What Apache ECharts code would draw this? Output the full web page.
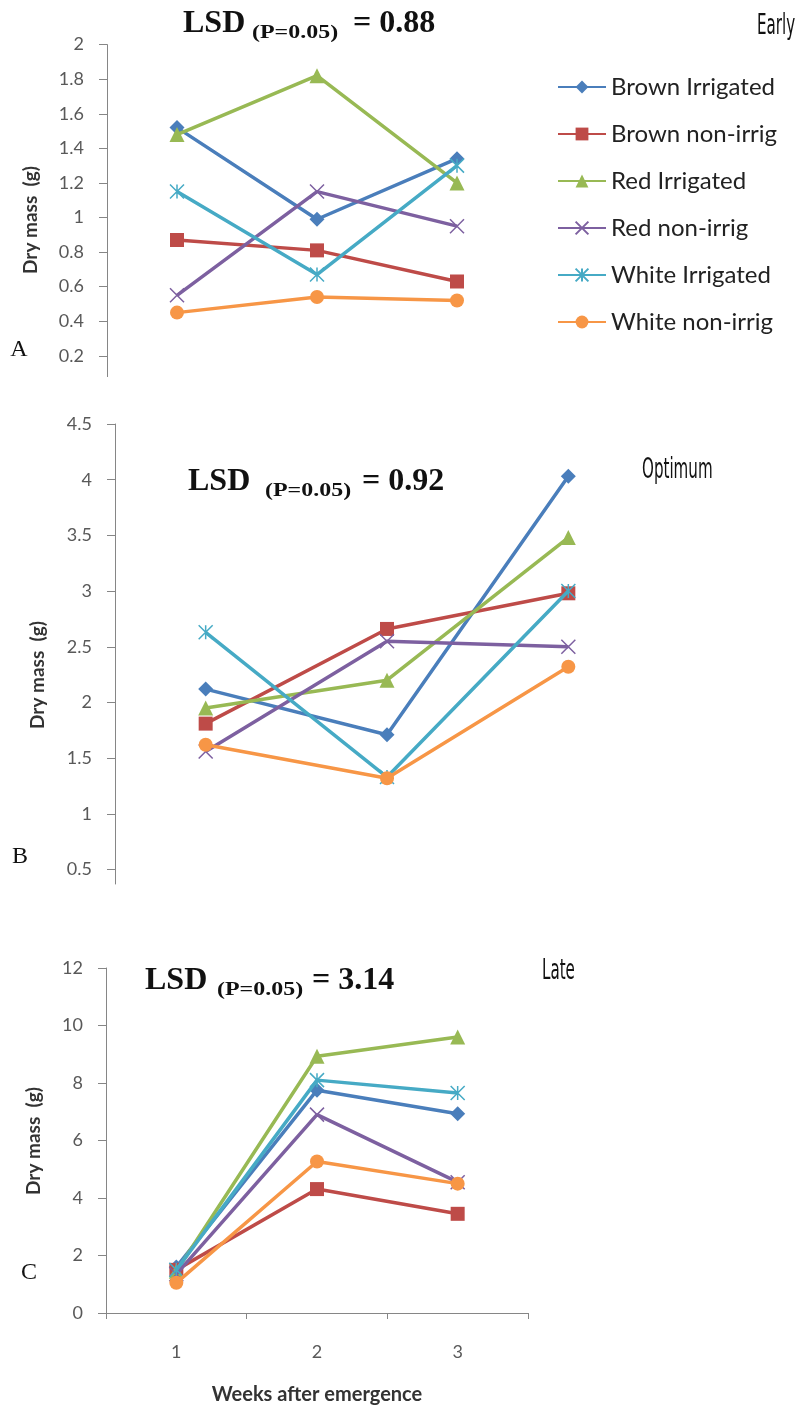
<!DOCTYPE html>
<html>
<head>
<meta charset="utf-8">
<script src="https://cdn.jsdelivr.net/npm/echarts@6/dist/echarts.min.js"></script>
<style>
  html, body { margin: 0; padding: 0; background: #ffffff; }
  #chart { width: 802px; height: 1407px; }
</style>
</head>
<body>
<div id="chart"></div>
<script>
// Weeks after emergence (category axis)
const weeks = ['1', '2', '3'];

// Treatment names (legend order)
const treatmentNames = ['Brown Irrigated', 'Brown non-irrig', 'Red Irrigated', 'Red non-irrig', 'White Irrigated', 'White non-irrig'];

// Early planting – dry mass (g)
const earlyBrownIrrigated = [1.52, 0.99, 1.34];
const earlyBrownNonIrrig  = [0.87, 0.81, 0.63];
const earlyRedIrrigated   = [1.48, 1.82, 1.20];
const earlyRedNonIrrig    = [0.55, 1.15, 0.95];
const earlyWhiteIrrigated = [1.15, 0.67, 1.30];
const earlyWhiteNonIrrig  = [0.45, 0.54, 0.52];

// Optimum planting – dry mass (g)
const optimumBrownIrrigated = [2.12, 1.71, 4.03];
const optimumBrownNonIrrig  = [1.81, 2.66, 2.98];
const optimumRedIrrigated   = [1.95, 2.20, 3.48];
const optimumRedNonIrrig    = [1.56, 2.55, 2.50];
const optimumWhiteIrrigated = [2.63, 1.33, 3.00];
const optimumWhiteNonIrrig  = [1.62, 1.32, 2.32];

// Late planting – dry mass (g)
const lateBrownIrrigated = [1.60, 7.75, 6.93];
const lateBrownNonIrrig  = [1.50, 4.31, 3.45];
const lateRedIrrigated   = [1.45, 8.93, 9.60];
const lateRedNonIrrig    = [1.35, 6.90, 4.55];
const lateWhiteIrrigated = [1.50, 8.10, 7.65];
const lateWhiteNonIrrig  = [1.05, 5.27, 4.50];

// Y-axis tick values per panel
const ticksEarly   = [0.2, 0.4, 0.6, 0.8, 1, 1.2, 1.4, 1.6, 1.8, 2];
const ticksOptimum = [0.5, 1, 1.5, 2, 2.5, 3, 3.5, 4, 4.5];
const ticksLate    = [0, 2, 4, 6, 8, 10, 12];

// Panel annotations
const lsdValues    = ['0.88', '0.92', '3.14'];
const seasonLabels = ['Early', 'Optimum', 'Late'];
const panelLetters = ['A', 'B', 'C'];
const yAxisTitle   = 'Dry mass  (g)';
const xAxisTitle   = 'Weeks after emergence';

const panelData = [
  [earlyBrownIrrigated, earlyBrownNonIrrig, earlyRedIrrigated, earlyRedNonIrrig, earlyWhiteIrrigated, earlyWhiteNonIrrig],
  [optimumBrownIrrigated, optimumBrownNonIrrig, optimumRedIrrigated, optimumRedNonIrrig, optimumWhiteIrrigated, optimumWhiteNonIrrig],
  [lateBrownIrrigated, lateBrownNonIrrig, lateRedIrrigated, lateRedNonIrrig, lateWhiteIrrigated, lateWhiteNonIrrig]
];

// Marker / line styling for each treatment
const crossPath = 'path://M0 0L10 10M10 0L0 10';
const starPath  = 'path://M0 0L10 10M10 0L0 10M5 0L5 10';
const treatmentStyles = [
  { color: '#4A7EBB', symbol: 'diamond',  size: 15, border: 0 },
  { color: '#BE4B48', symbol: 'rect',     size: 14, border: 0 },
  { color: '#98B954', symbol: 'triangle', size: 15, border: 0 },
  { color: '#7D60A0', symbol: crossPath,  size: 14, border: 1.5 },
  { color: '#46AAC5', symbol: starPath,   size: 14, border: 1.5 },
  { color: '#F79646', symbol: 'circle',   size: 14, border: 0 }
];

const axisGray  = '#868686';
const labelGray = '#595959';
const sansFont  = 'Lato, "Open Sans", sans-serif';
const serifFont = '"Liberation Serif", "DejaVu Serif", serif';
const narrowFont = '"Liberation Sans Narrow", "DejaVu Sans Condensed", sans-serif';

const grids = [
  { left: 107, top: 44.6, width: 420, height: 332 },
  { left: 115, top: 424,  width: 544, height: 460 },
  { left: 106, top: 968,  width: 422, height: 345 }
];

const yRanges = [
  { min: 0.08, max: 2,   ticks: ticksEarly },
  { min: 0.37, max: 4.5, ticks: ticksOptimum },
  { min: 0,    max: 12,  ticks: ticksLate }
];

const xAxes = grids.map((g, i) => ({
  type: 'category',
  gridIndex: i,
  data: weeks,
  boundaryGap: true,
  show: i === 2,
  axisLine: { show: true, lineStyle: { color: axisGray, width: 1 } },
  axisTick: { show: true, length: 6, lineStyle: { color: axisGray } },
  axisLabel: { margin: 30, fontSize: 18, color: labelGray, fontFamily: sansFont },
  name: i === 2 ? xAxisTitle : '',
  nameLocation: 'middle',
  nameGap: 72,
  nameTextStyle: { fontWeight: 'bold', fontSize: 20, color: '#333333', fontFamily: sansFont }
}));

const yAxes = yRanges.map((r, i) => ({
  type: 'value',
  gridIndex: i,
  min: r.min,
  max: r.max,
  axisLine: { show: true, lineStyle: { color: axisGray, width: 1 } },
  axisTick: { show: true, length: 8, customValues: r.ticks, lineStyle: { color: axisGray } },
  axisLabel: { customValues: r.ticks, margin: 23, fontSize: 18, color: labelGray, fontFamily: sansFont },
  splitLine: { show: false }
}));

const series = [];
panelData.forEach((rows, p) => {
  rows.forEach((values, k) => {
    const s = treatmentStyles[k];
    series.push({
      type: 'line',
      name: treatmentNames[k],
      xAxisIndex: p,
      yAxisIndex: p,
      data: values,
      symbol: s.symbol,
      symbolSize: s.size,
      showAllSymbol: true,
      lineStyle: { width: 3.5, color: s.color },
      itemStyle: { color: s.color, borderColor: s.color, borderWidth: s.border, opacity: 1 },
      emphasis: { disabled: true },
      z: 2 + k
    });
  });
});

// Text annotations: LSD titles, season labels, panel letters, rotated y titles
// lsdLayout: [left, capCentre, subscript offset, equals offset]
const lsdLayout = [[183, 24, 69, 170], [188, 482, 77, 174], [145, 981, 72, 167]];
const seasonPos = [[757, 27], [642, 471], [542, 972]];
const letterPos = [[19, 350], [20, 857], [29, 1273]];
const yTitlePos = [[31, 220], [38, 675], [34, 1141]];

const graphics = [];
lsdValues.forEach((v, i) => {
  const L = lsdLayout[i];
  graphics.push({
    type: 'group',
    x: L[0], y: L[1],
    children: [
      { type: 'text', x: 0, y: 0,
        style: { text: 'LSD', font: 'bold 32px ' + serifFont, fill: '#111', verticalAlign: 'middle', align: 'left' } },
      { type: 'text', x: L[2], y: 9, scaleX: 1.33,
        style: { text: '(P=0.05)', font: 'bold 18px ' + serifFont, fill: '#111', verticalAlign: 'middle', align: 'left' } },
      { type: 'text', x: L[3], y: 0,
        style: { text: '= ' + v, font: 'bold 32px ' + serifFont, fill: '#111', verticalAlign: 'middle', align: 'left' } }
    ]
  });
});
seasonLabels.forEach((t, i) => {
  graphics.push({
    type: 'text',
    x: seasonPos[i][0], y: seasonPos[i][1],
    scaleX: 0.6,
    style: { text: t, font: '28px ' + narrowFont, fill: '#111', verticalAlign: 'middle', align: 'left' }
  });
});
panelLetters.forEach((t, i) => {
  graphics.push({
    type: 'text',
    x: letterPos[i][0], y: letterPos[i][1],
    style: { text: t, font: '24px ' + serifFont, fill: '#111', verticalAlign: 'middle', align: 'center' }
  });
});
yTitlePos.forEach((pos, i) => {
  graphics.push({
    type: 'text',
    x: pos[0], y: pos[1],
    rotation: Math.PI / 2,
    style: { text: yAxisTitle, font: 'bold 19px ' + sansFont, fill: '#333333', verticalAlign: 'middle', align: 'center' }
  });
});

const chart = echarts.init(document.getElementById('chart'), null, { renderer: 'canvas' });
chart.setOption({
  animation: false,
  backgroundColor: '#ffffff',
  grid: grids,
  xAxis: xAxes,
  yAxis: yAxes,
  legend: {
    data: treatmentNames,
    orient: 'vertical',
    left: 552,
    top: 68,
    itemWidth: 48,
    itemHeight: 16,
    itemGap: 19,
    textStyle: { fontSize: 24, lineHeight: 28, color: '#222222', fontFamily: sansFont },
    selectedMode: false
  },
  graphic: graphics,
  series: series
});
</script>
</body>
</html>
